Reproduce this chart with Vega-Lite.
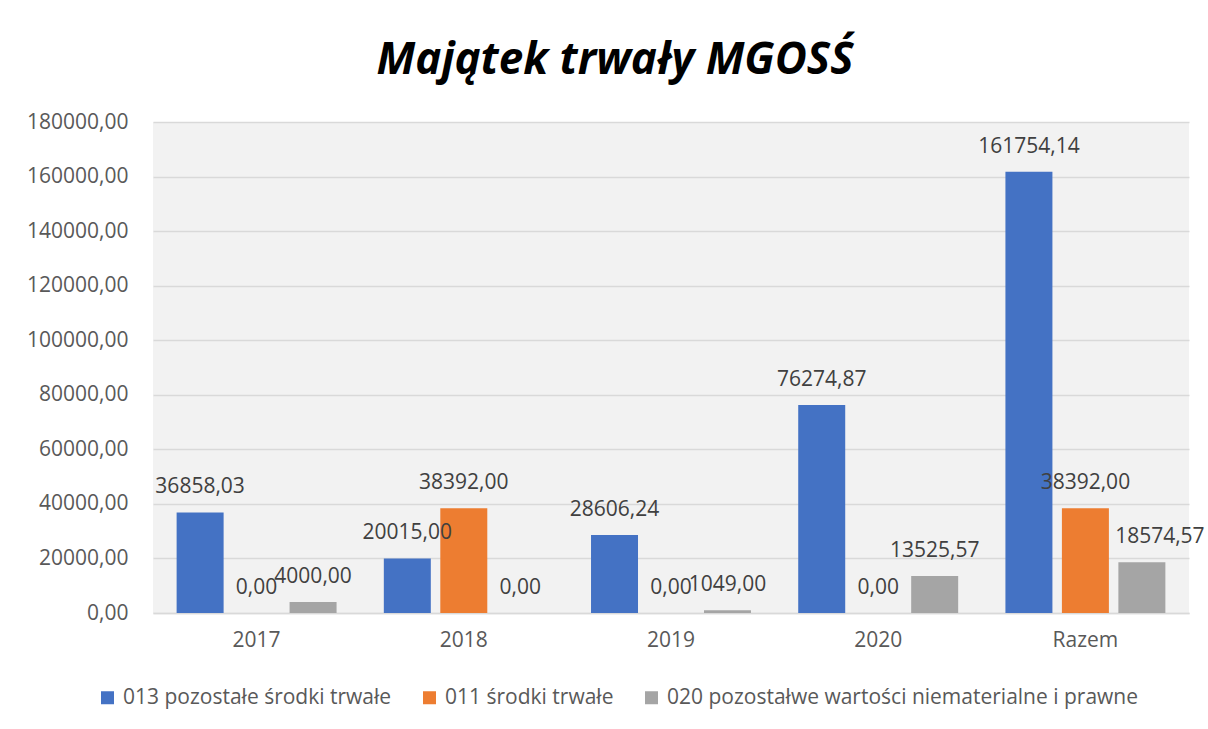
{
  "$schema": "https://vega.github.io/schema/vega-lite/v6.json",
  "width": 1036,
  "height": 491,
  "autosize": "none",
  "padding": {"left": 153, "top": 122, "right": 19, "bottom": 116},
  "background": "white",
  "config": {
    "locale": {"number": {"decimal": ",", "thousands": " ", "grouping": [3], "currency": ["", " zł"]}},
    "view": {"fill": "#F2F2F2", "stroke": null},
    "font": "Open Sans"
  },
  "title": {
    "text": "Majątek trwały MGOSŚ",
    "font": "Open Sans",
    "fontSize": 44,
    "fontWeight": "bold",
    "fontStyle": "italic",
    "color": "#000000",
    "anchor": "middle",
    "dx": -56,
    "offset": 28
  },
  "data": {
    "values": [
      {"rok": "2017", "seria": "013 pozostałe środki trwałe", "wartosc": 36858.03},
      {"rok": "2017", "seria": "011 środki trwałe", "wartosc": 0},
      {"rok": "2017", "seria": "020 pozostałwe wartości niematerialne i prawne", "wartosc": 4000},
      {"rok": "2018", "seria": "013 pozostałe środki trwałe", "wartosc": 20015},
      {"rok": "2018", "seria": "011 środki trwałe", "wartosc": 38392},
      {"rok": "2018", "seria": "020 pozostałwe wartości niematerialne i prawne", "wartosc": 0},
      {"rok": "2019", "seria": "013 pozostałe środki trwałe", "wartosc": 28606.24},
      {"rok": "2019", "seria": "011 środki trwałe", "wartosc": 0},
      {"rok": "2019", "seria": "020 pozostałwe wartości niematerialne i prawne", "wartosc": 1049},
      {"rok": "2020", "seria": "013 pozostałe środki trwałe", "wartosc": 76274.87},
      {"rok": "2020", "seria": "011 środki trwałe", "wartosc": 0},
      {"rok": "2020", "seria": "020 pozostałwe wartości niematerialne i prawne", "wartosc": 13525.57},
      {"rok": "Razem", "seria": "013 pozostałe środki trwałe", "wartosc": 161754.14},
      {"rok": "Razem", "seria": "011 środki trwałe", "wartosc": 38392},
      {"rok": "Razem", "seria": "020 pozostałwe wartości niematerialne i prawne", "wartosc": 18574.57}
    ]
  },
  "encoding": {
    "x": {
      "field": "rok", "type": "nominal", "sort": null,
      "scale": {"paddingInner": 0.228, "paddingOuter": 0.114},
      "axis": {"title": null, "labelAngle": 0, "labelFontSize": 21, "labelColor": "#595959", "labelPadding": 16, "ticks": false, "domain": true, "domainColor": "#D9D9D9", "domainWidth": 1.5, "grid": false}
    },
    "xOffset": {
      "field": "seria", "type": "nominal",
      "sort": ["013 pozostałe środki trwałe", "011 środki trwałe", "020 pozostałwe wartości niematerialne i prawne"],
      "scale": {"paddingInner": 0.168, "paddingOuter": 0}
    },
    "y": {
      "field": "wartosc", "type": "quantitative",
      "scale": {"domain": [0, 180000], "nice": false},
      "axis": {"title": null, "values": [0, 20000, 40000, 60000, 80000, 100000, 120000, 140000, 160000, 180000], "format": ".2f", "labelFontSize": 21, "labelColor": "#595959", "labelPadding": 25, "ticks": false, "domain": false, "grid": true, "gridColor": "#D9D9D9", "gridWidth": 1.5}
    }
  },
  "layer": [
    {
      "mark": {"type": "bar"},
      "encoding": {
        "color": {
          "field": "seria", "type": "nominal",
          "sort": ["013 pozostałe środki trwałe", "011 środki trwałe", "020 pozostałwe wartości niematerialne i prawne"],
          "scale": {"domain": ["013 pozostałe środki trwałe", "011 środki trwałe", "020 pozostałwe wartości niematerialne i prawne"], "range": ["#4472C4", "#ED7D31", "#A5A5A5"]},
          "legend": {
            "title": null, "orient": "none", "direction": "horizontal", "legendX": -56, "legendY": 565,
            "symbolType": "square", "symbolSize": 169, "symbolStrokeWidth": 0, "labelFontSize": 21, "labelColor": "#595959",
            "labelOffset": 5, "columnPadding": 27, "labelLimit": 600
          }
        }
      }
    },
    {
      "transform": [{"filter": "!(datum.rok == 'Razem' && datum.wartosc == 18574.57)"}],
      "mark": {"type": "text", "fontSize": 21, "color": "#404040", "baseline": "middle", "dy": -25},
      "encoding": {"text": {"field": "wartosc", "type": "quantitative", "format": ".2f"}}
    },
    {
      "transform": [{"filter": "datum.rok == 'Razem' && datum.wartosc == 18574.57"}],
      "mark": {"type": "text", "fontSize": 21, "color": "#404040", "baseline": "middle", "dy": -25, "dx": 18},
      "encoding": {"text": {"field": "wartosc", "type": "quantitative", "format": ".2f"}}
    }
  ]
}
